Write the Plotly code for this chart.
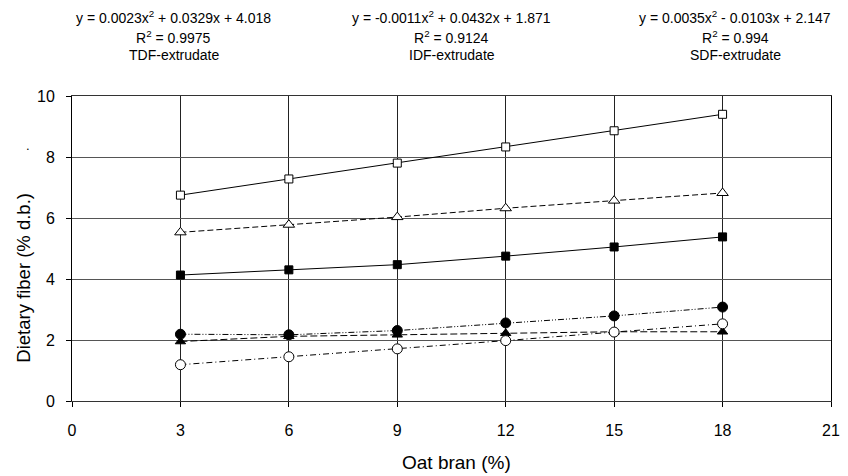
import plotly.graph_objects as go

oat_bran = [3, 6, 9, 12, 15, 18]
open_square = [6.75, 7.28, 7.80, 8.33, 8.86, 9.40]
open_triangle = [5.53, 5.78, 6.03, 6.32, 6.57, 6.82]
filled_square = [4.13, 4.30, 4.47, 4.75, 5.05, 5.38]
filled_circle = [2.19, 2.17, 2.31, 2.56, 2.79, 3.08]
filled_triangle = [1.95, 2.12, 2.17, 2.22, 2.27, 2.27]
open_circle = [1.19, 1.45, 1.71, 1.98, 2.26, 2.53]

x_ticks = [0, 3, 6, 9, 12, 15, 18, 21]
y_ticks = [0, 2, 4, 6, 8, 10]

eq_lines = [
    ["y = 0.0023x<sup>2</sup> + 0.0329x + 4.018", "R<sup>2</sup> = 0.9975", "TDF-extrudate"],
    ["y = -0.0011x<sup>2</sup> + 0.0432x + 1.871", "R<sup>2</sup> = 0.9124", "IDF-extrudate"],
    ["y = 0.0035x<sup>2</sup> - 0.0103x + 2.147", "R<sup>2</sup> = 0.994", "SDF-extrudate"],
]
x_title = "Oat bran (%)"
y_title = "Dietary fiber (% d.b.)"

series = [
    (open_square, "square", "white", 8, "solid"),
    (open_triangle, "triangle-up", "white", 10, "6px,3px"),
    (filled_square, "square", "black", 8, "solid"),
    (filled_circle, "circle", "black", 10, "6px,2px,1px,2px,1px,2px"),
    (filled_triangle, "triangle-up", "black", 9, "7px,3px"),
    (open_circle, "circle", "white", 10, "6px,3px,1px,3px"),
]

fig = go.Figure()
for ys, sym, fill, sz, dash in series:
    fig.add_trace(go.Scatter(
        x=oat_bran, y=ys, mode="lines+markers",
        line=dict(color="black", width=1, dash=dash),
        marker=dict(symbol=sym, size=sz, color=fill, line=dict(color="black", width=1)),
        showlegend=False,
    ))

font = dict(family="Liberation Sans, Arial, sans-serif", color="black")
annotations = []
xs = [0.134, 0.500, 0.874]
ys_pos = [1.259, 1.192, 1.136]
for xi, lines in zip(xs, eq_lines):
    for yi, txt in zip(ys_pos, lines):
        annotations.append(dict(x=xi, y=yi, xref="paper", yref="paper", text=txt,
                                showarrow=False, xanchor="center", yanchor="middle",
                                font=dict(size=14, **font)))
# axis titles
annotations.append(dict(x=0.5065, y=-0.203, xref="paper", yref="paper", text=x_title,
                        showarrow=False, xanchor="center", yanchor="middle",
                        font=dict(size=19, **font)))
annotations.append(dict(x=-0.0651, y=0.403, xref="paper", yref="paper", text=y_title,
                        textangle=-90, showarrow=False, xanchor="center", yanchor="middle",
                        font=dict(size=18.5, **font)))
annotations.append(dict(x=-0.063, y=0.87, xref="paper", yref="paper", text=".",
                        showarrow=False, font=dict(size=13, **font)))

fig.update_layout(
    width=848, height=476,
    margin=dict(l=72, r=8, t=96, b=75),
    plot_bgcolor="white", paper_bgcolor="white",
    font=font,
    annotations=annotations,
    xaxis=dict(range=[0, 21], tickvals=x_ticks, ticks="outside", ticklen=5,
               tickcolor="black", showline=True, linecolor="#333", linewidth=1, mirror=True,
               showgrid=True, gridcolor="#222", gridwidth=1, zeroline=False,
               ticklabelstandoff=10, ticklabeloverflow="allow",
               tickfont=dict(size=16, **font)),
    yaxis=dict(range=[0, 10], tickvals=y_ticks, ticks="outside", ticklen=5,
               tickcolor="black", showline=True, linecolor="black", linewidth=1, mirror=True,
               showgrid=True, gridcolor="#555", gridwidth=1, zeroline=False,
               ticklabelstandoff=8, ticklabeloverflow="allow",
               tickfont=dict(size=16, **font)),
)

fig.write_html("out.html")
